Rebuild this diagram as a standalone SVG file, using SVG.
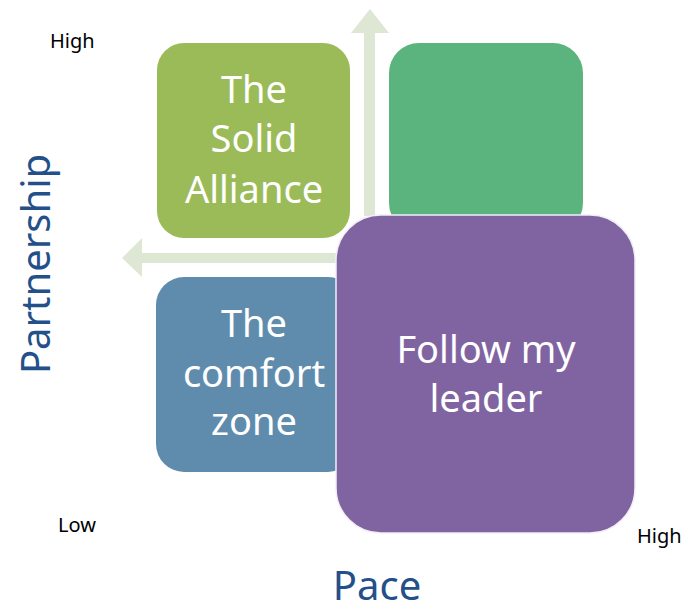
<svg xmlns="http://www.w3.org/2000/svg" width="688" height="612" viewBox="0 0 688 612">
<style>
.lbl{font-family:"Noto Sans","Open Sans",sans-serif;fill:#ffffff;font-size:38px;text-anchor:middle}
.axis{font-family:"Noto Sans","Open Sans",sans-serif;fill:#24508A;font-size:40px;text-anchor:middle}
.small{font-family:"Noto Sans","Open Sans",sans-serif;fill:#000000;font-size:20px}
.arrow{fill:#DEE7D4}
</style>
<rect width="688" height="612" fill="#ffffff"/>
<g id="connectors">
<path class="arrow" d="M364,216 L364,33 L351,33 L370,9 L389,33 L375,33 L375,216 Z"/>
<path class="arrow" d="M340,253 L142,253 L142,238 L122,258 L142,277 L142,263 L340,263 Z"/>
</g>
<g id="node-solid-alliance">
<rect x="157" y="43" width="193" height="195" rx="27" fill="#9BBB59"/>
<text class="lbl" x="254" y="103">The</text>
<text class="lbl" x="254" y="152">Solid</text>
<text class="lbl" x="254" y="203">Alliance</text>
</g>
<g id="node-top-right">
<rect x="389" y="43" width="194" height="190" rx="30" fill="#5BB37E"/>
</g>
<g id="node-comfort-zone">
<rect x="156" y="277" width="200" height="195" rx="28" fill="#5F8CAD"/>
<text class="lbl" x="254" y="337">The</text>
<text class="lbl" x="254" y="387">comfort</text>
<text class="lbl" x="254" y="435">zone</text>
</g>
<g id="node-follow-my-leader">
<rect x="336" y="215" width="299" height="318" rx="45" fill="#8064A2" stroke="#F2EEF6" stroke-width="1.5"/>
<text class="lbl" x="486" y="363">Follow my</text>
<text class="lbl" x="486" y="412">leader</text>
</g>
<g id="axis-labels">
<text class="axis" transform="translate(50,264) rotate(-90)" font-size="41">Partnership</text>
<text class="axis" x="377" y="600">Pace</text>
<text class="small" x="50" y="48">High</text>
<text class="small" x="58" y="532">Low</text>
<text class="small" x="637" y="543">High</text>
</g>
</svg>
